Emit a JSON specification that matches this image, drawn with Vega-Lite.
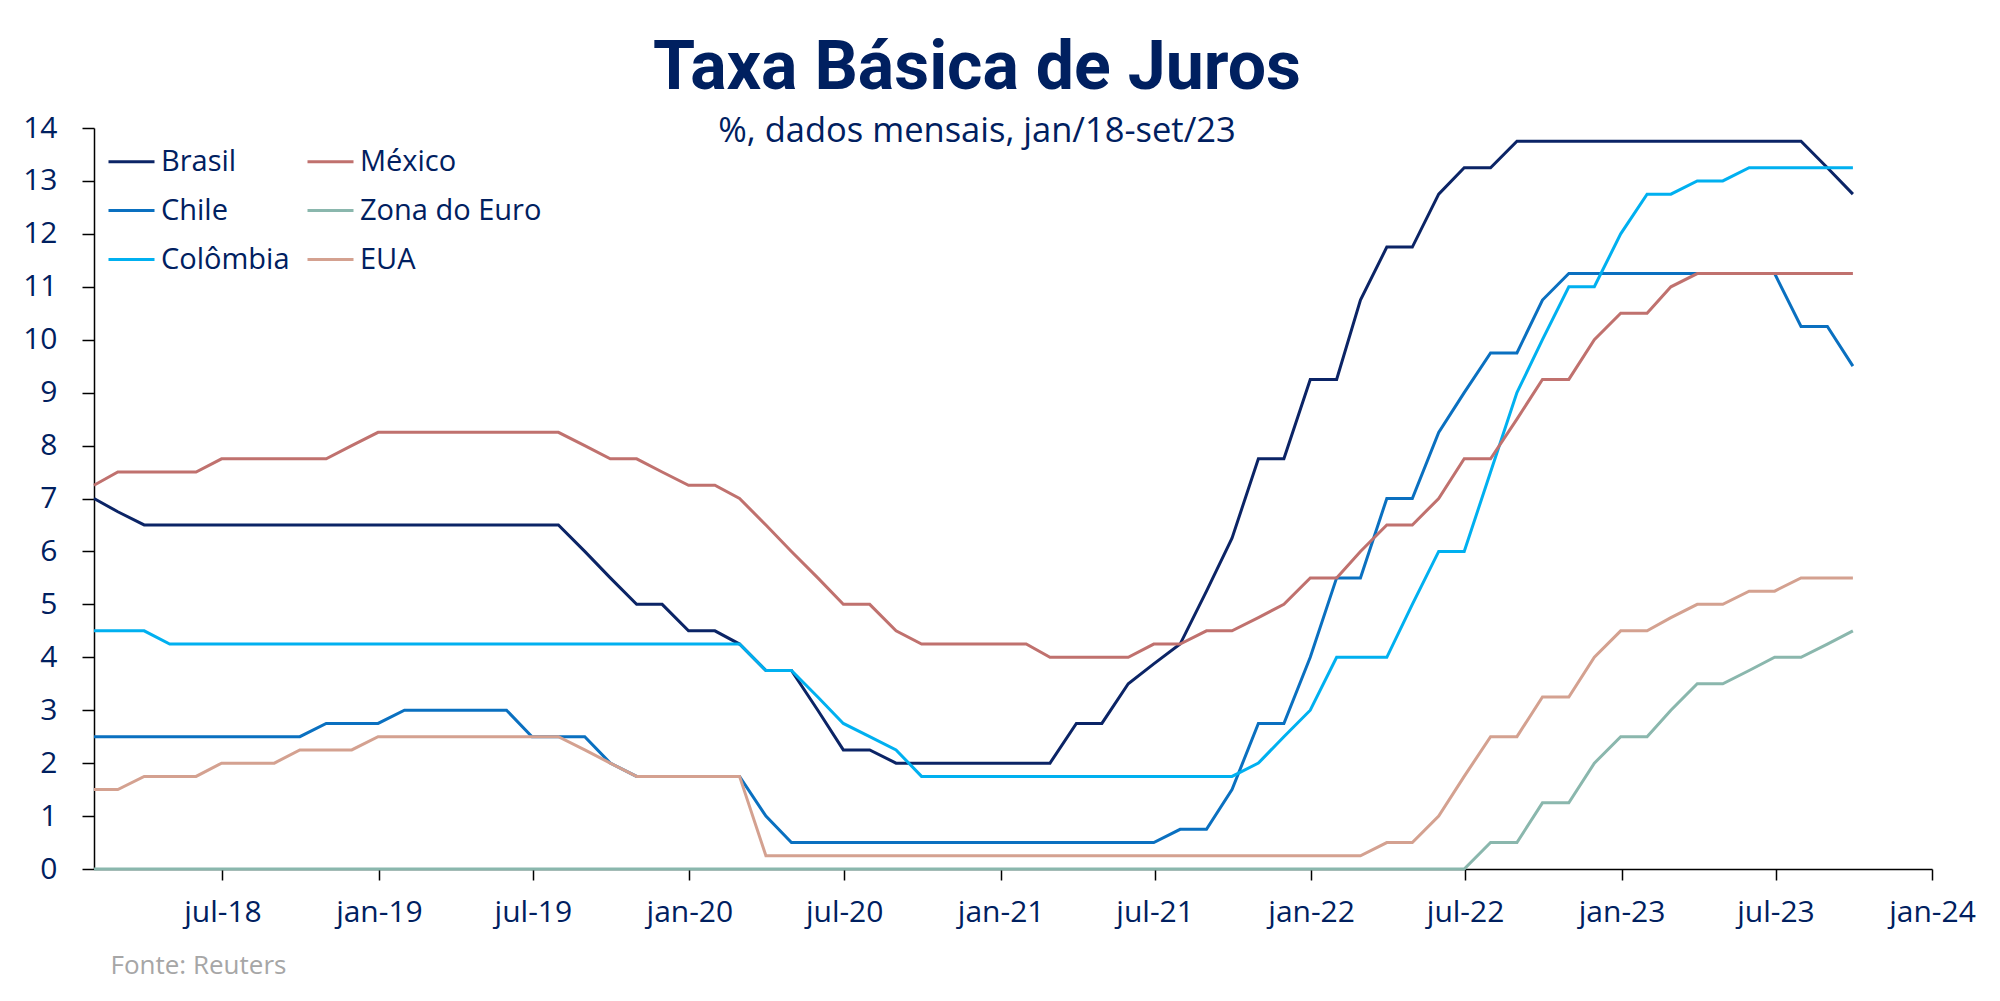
{
  "$schema": "https://vega.github.io/schema/vega-lite/v6.json",
  "width": 1838,
  "height": 741,
  "autosize": {"type": "none"},
  "padding": {"left": 94, "top": 128, "right": 68, "bottom": 132},
  "background": "white",
  "title": {
    "text": "Taxa Básica de Juros",
    "subtitle": "%, dados mensais, jan/18-set/23",
    "anchor": "middle",
    "frame": "group",
    "dx": -36,
    "offset": -35,
    "font": "Roboto",
    "fontSize": 68,
    "fontWeight": "bold",
    "color": "#002060",
    "subtitleFont": "Open Sans",
    "subtitleFontSize": 34.5,
    "subtitleColor": "#002060",
    "subtitlePadding": 12
  },
  "data": {
    "values": [
      {"d": "2018-01-31", "Brasil": 7, "Chile": 2.5, "Colômbia": 4.5, "México": 7.25, "Zona do Euro": 0, "EUA": 1.5},
      {"d": "2018-02-28", "Brasil": 6.75, "Chile": 2.5, "Colômbia": 4.5, "México": 7.5, "Zona do Euro": 0, "EUA": 1.5},
      {"d": "2018-03-31", "Brasil": 6.5, "Chile": 2.5, "Colômbia": 4.5, "México": 7.5, "Zona do Euro": 0, "EUA": 1.75},
      {"d": "2018-04-30", "Brasil": 6.5, "Chile": 2.5, "Colômbia": 4.25, "México": 7.5, "Zona do Euro": 0, "EUA": 1.75},
      {"d": "2018-05-31", "Brasil": 6.5, "Chile": 2.5, "Colômbia": 4.25, "México": 7.5, "Zona do Euro": 0, "EUA": 1.75},
      {"d": "2018-06-30", "Brasil": 6.5, "Chile": 2.5, "Colômbia": 4.25, "México": 7.75, "Zona do Euro": 0, "EUA": 2},
      {"d": "2018-07-31", "Brasil": 6.5, "Chile": 2.5, "Colômbia": 4.25, "México": 7.75, "Zona do Euro": 0, "EUA": 2},
      {"d": "2018-08-31", "Brasil": 6.5, "Chile": 2.5, "Colômbia": 4.25, "México": 7.75, "Zona do Euro": 0, "EUA": 2},
      {"d": "2018-09-30", "Brasil": 6.5, "Chile": 2.5, "Colômbia": 4.25, "México": 7.75, "Zona do Euro": 0, "EUA": 2.25},
      {"d": "2018-10-31", "Brasil": 6.5, "Chile": 2.75, "Colômbia": 4.25, "México": 7.75, "Zona do Euro": 0, "EUA": 2.25},
      {"d": "2018-11-30", "Brasil": 6.5, "Chile": 2.75, "Colômbia": 4.25, "México": 8, "Zona do Euro": 0, "EUA": 2.25},
      {"d": "2018-12-31", "Brasil": 6.5, "Chile": 2.75, "Colômbia": 4.25, "México": 8.25, "Zona do Euro": 0, "EUA": 2.5},
      {"d": "2019-01-31", "Brasil": 6.5, "Chile": 3, "Colômbia": 4.25, "México": 8.25, "Zona do Euro": 0, "EUA": 2.5},
      {"d": "2019-02-28", "Brasil": 6.5, "Chile": 3, "Colômbia": 4.25, "México": 8.25, "Zona do Euro": 0, "EUA": 2.5},
      {"d": "2019-03-31", "Brasil": 6.5, "Chile": 3, "Colômbia": 4.25, "México": 8.25, "Zona do Euro": 0, "EUA": 2.5},
      {"d": "2019-04-30", "Brasil": 6.5, "Chile": 3, "Colômbia": 4.25, "México": 8.25, "Zona do Euro": 0, "EUA": 2.5},
      {"d": "2019-05-31", "Brasil": 6.5, "Chile": 3, "Colômbia": 4.25, "México": 8.25, "Zona do Euro": 0, "EUA": 2.5},
      {"d": "2019-06-30", "Brasil": 6.5, "Chile": 2.5, "Colômbia": 4.25, "México": 8.25, "Zona do Euro": 0, "EUA": 2.5},
      {"d": "2019-07-31", "Brasil": 6.5, "Chile": 2.5, "Colômbia": 4.25, "México": 8.25, "Zona do Euro": 0, "EUA": 2.5},
      {"d": "2019-08-31", "Brasil": 6, "Chile": 2.5, "Colômbia": 4.25, "México": 8, "Zona do Euro": 0, "EUA": 2.25},
      {"d": "2019-09-30", "Brasil": 5.5, "Chile": 2, "Colômbia": 4.25, "México": 7.75, "Zona do Euro": 0, "EUA": 2},
      {"d": "2019-10-31", "Brasil": 5, "Chile": 1.75, "Colômbia": 4.25, "México": 7.75, "Zona do Euro": 0, "EUA": 1.75},
      {"d": "2019-11-30", "Brasil": 5, "Chile": 1.75, "Colômbia": 4.25, "México": 7.5, "Zona do Euro": 0, "EUA": 1.75},
      {"d": "2019-12-31", "Brasil": 4.5, "Chile": 1.75, "Colômbia": 4.25, "México": 7.25, "Zona do Euro": 0, "EUA": 1.75},
      {"d": "2020-01-31", "Brasil": 4.5, "Chile": 1.75, "Colômbia": 4.25, "México": 7.25, "Zona do Euro": 0, "EUA": 1.75},
      {"d": "2020-02-29", "Brasil": 4.25, "Chile": 1.75, "Colômbia": 4.25, "México": 7, "Zona do Euro": 0, "EUA": 1.75},
      {"d": "2020-03-31", "Brasil": 3.75, "Chile": 1, "Colômbia": 3.75, "México": 6.5, "Zona do Euro": 0, "EUA": 0.25},
      {"d": "2020-04-30", "Brasil": 3.75, "Chile": 0.5, "Colômbia": 3.75, "México": 6, "Zona do Euro": 0, "EUA": 0.25},
      {"d": "2020-05-31", "Brasil": 3, "Chile": 0.5, "Colômbia": 3.25, "México": 5.5, "Zona do Euro": 0, "EUA": 0.25},
      {"d": "2020-06-30", "Brasil": 2.25, "Chile": 0.5, "Colômbia": 2.75, "México": 5, "Zona do Euro": 0, "EUA": 0.25},
      {"d": "2020-07-31", "Brasil": 2.25, "Chile": 0.5, "Colômbia": 2.5, "México": 5, "Zona do Euro": 0, "EUA": 0.25},
      {"d": "2020-08-31", "Brasil": 2, "Chile": 0.5, "Colômbia": 2.25, "México": 4.5, "Zona do Euro": 0, "EUA": 0.25},
      {"d": "2020-09-30", "Brasil": 2, "Chile": 0.5, "Colômbia": 1.75, "México": 4.25, "Zona do Euro": 0, "EUA": 0.25},
      {"d": "2020-10-31", "Brasil": 2, "Chile": 0.5, "Colômbia": 1.75, "México": 4.25, "Zona do Euro": 0, "EUA": 0.25},
      {"d": "2020-11-30", "Brasil": 2, "Chile": 0.5, "Colômbia": 1.75, "México": 4.25, "Zona do Euro": 0, "EUA": 0.25},
      {"d": "2020-12-31", "Brasil": 2, "Chile": 0.5, "Colômbia": 1.75, "México": 4.25, "Zona do Euro": 0, "EUA": 0.25},
      {"d": "2021-01-31", "Brasil": 2, "Chile": 0.5, "Colômbia": 1.75, "México": 4.25, "Zona do Euro": 0, "EUA": 0.25},
      {"d": "2021-02-28", "Brasil": 2, "Chile": 0.5, "Colômbia": 1.75, "México": 4, "Zona do Euro": 0, "EUA": 0.25},
      {"d": "2021-03-31", "Brasil": 2.75, "Chile": 0.5, "Colômbia": 1.75, "México": 4, "Zona do Euro": 0, "EUA": 0.25},
      {"d": "2021-04-30", "Brasil": 2.75, "Chile": 0.5, "Colômbia": 1.75, "México": 4, "Zona do Euro": 0, "EUA": 0.25},
      {"d": "2021-05-31", "Brasil": 3.5, "Chile": 0.5, "Colômbia": 1.75, "México": 4, "Zona do Euro": 0, "EUA": 0.25},
      {"d": "2021-06-30", "Brasil": 3.875, "Chile": 0.5, "Colômbia": 1.75, "México": 4.25, "Zona do Euro": 0, "EUA": 0.25},
      {"d": "2021-07-31", "Brasil": 4.25, "Chile": 0.75, "Colômbia": 1.75, "México": 4.25, "Zona do Euro": 0, "EUA": 0.25},
      {"d": "2021-08-31", "Brasil": 5.25, "Chile": 0.75, "Colômbia": 1.75, "México": 4.5, "Zona do Euro": 0, "EUA": 0.25},
      {"d": "2021-09-30", "Brasil": 6.25, "Chile": 1.5, "Colômbia": 1.75, "México": 4.5, "Zona do Euro": 0, "EUA": 0.25},
      {"d": "2021-10-31", "Brasil": 7.75, "Chile": 2.75, "Colômbia": 2, "México": 4.75, "Zona do Euro": 0, "EUA": 0.25},
      {"d": "2021-11-30", "Brasil": 7.75, "Chile": 2.75, "Colômbia": 2.5, "México": 5, "Zona do Euro": 0, "EUA": 0.25},
      {"d": "2021-12-31", "Brasil": 9.25, "Chile": 4, "Colômbia": 3, "México": 5.5, "Zona do Euro": 0, "EUA": 0.25},
      {"d": "2022-01-31", "Brasil": 9.25, "Chile": 5.5, "Colômbia": 4, "México": 5.5, "Zona do Euro": 0, "EUA": 0.25},
      {"d": "2022-02-28", "Brasil": 10.75, "Chile": 5.5, "Colômbia": 4, "México": 6, "Zona do Euro": 0, "EUA": 0.25},
      {"d": "2022-03-31", "Brasil": 11.75, "Chile": 7, "Colômbia": 4, "México": 6.5, "Zona do Euro": 0, "EUA": 0.5},
      {"d": "2022-04-30", "Brasil": 11.75, "Chile": 7, "Colômbia": 5, "México": 6.5, "Zona do Euro": 0, "EUA": 0.5},
      {"d": "2022-05-31", "Brasil": 12.75, "Chile": 8.25, "Colômbia": 6, "México": 7, "Zona do Euro": 0, "EUA": 1},
      {"d": "2022-06-30", "Brasil": 13.25, "Chile": 9, "Colômbia": 6, "México": 7.75, "Zona do Euro": 0, "EUA": 1.75},
      {"d": "2022-07-31", "Brasil": 13.25, "Chile": 9.75, "Colômbia": 7.5, "México": 7.75, "Zona do Euro": 0.5, "EUA": 2.5},
      {"d": "2022-08-31", "Brasil": 13.75, "Chile": 9.75, "Colômbia": 9, "México": 8.5, "Zona do Euro": 0.5, "EUA": 2.5},
      {"d": "2022-09-30", "Brasil": 13.75, "Chile": 10.75, "Colômbia": 10, "México": 9.25, "Zona do Euro": 1.25, "EUA": 3.25},
      {"d": "2022-10-31", "Brasil": 13.75, "Chile": 11.25, "Colômbia": 11, "México": 9.25, "Zona do Euro": 1.25, "EUA": 3.25},
      {"d": "2022-11-30", "Brasil": 13.75, "Chile": 11.25, "Colômbia": 11, "México": 10, "Zona do Euro": 2, "EUA": 4},
      {"d": "2022-12-31", "Brasil": 13.75, "Chile": 11.25, "Colômbia": 12, "México": 10.5, "Zona do Euro": 2.5, "EUA": 4.5},
      {"d": "2023-01-31", "Brasil": 13.75, "Chile": 11.25, "Colômbia": 12.75, "México": 10.5, "Zona do Euro": 2.5, "EUA": 4.5},
      {"d": "2023-02-28", "Brasil": 13.75, "Chile": 11.25, "Colômbia": 12.75, "México": 11, "Zona do Euro": 3, "EUA": 4.75},
      {"d": "2023-03-31", "Brasil": 13.75, "Chile": 11.25, "Colômbia": 13, "México": 11.25, "Zona do Euro": 3.5, "EUA": 5},
      {"d": "2023-04-30", "Brasil": 13.75, "Chile": 11.25, "Colômbia": 13, "México": 11.25, "Zona do Euro": 3.5, "EUA": 5},
      {"d": "2023-05-31", "Brasil": 13.75, "Chile": 11.25, "Colômbia": 13.25, "México": 11.25, "Zona do Euro": 3.75, "EUA": 5.25},
      {"d": "2023-06-30", "Brasil": 13.75, "Chile": 11.25, "Colômbia": 13.25, "México": 11.25, "Zona do Euro": 4, "EUA": 5.25},
      {"d": "2023-07-31", "Brasil": 13.75, "Chile": 10.25, "Colômbia": 13.25, "México": 11.25, "Zona do Euro": 4, "EUA": 5.5},
      {"d": "2023-08-31", "Brasil": 13.25, "Chile": 10.25, "Colômbia": 13.25, "México": 11.25, "Zona do Euro": 4.25, "EUA": 5.5},
      {"d": "2023-09-30", "Brasil": 12.75, "Chile": 9.5, "Colômbia": 13.25, "México": 11.25, "Zona do Euro": 4.5, "EUA": 5.5}
    ]
  },
  "transform": [
    {"fold": ["Brasil", "Chile", "Colômbia", "México", "Zona do Euro", "EUA"], "as": ["pais", "taxa"]}
  ],
  "mark": {"type": "line", "strokeWidth": 3, "strokeJoin": "miter"},
  "encoding": {
    "x": {
      "field": "d",
      "type": "temporal",
      "scale": {
        "type": "utc",
        "nice": false,
        "domain": [
          {"year": 2018, "month": 1, "date": 31, "utc": true},
          {"year": 2024, "month": 1, "date": 1, "utc": true}
        ]
      },
      "axis": {
        "values": [
          {"year": 2018, "month": 7, "date": 1, "utc": true},
          {"year": 2019, "month": 1, "date": 1, "utc": true},
          {"year": 2019, "month": 7, "date": 1, "utc": true},
          {"year": 2020, "month": 1, "date": 1, "utc": true},
          {"year": 2020, "month": 7, "date": 1, "utc": true},
          {"year": 2021, "month": 1, "date": 1, "utc": true},
          {"year": 2021, "month": 7, "date": 1, "utc": true},
          {"year": 2022, "month": 1, "date": 1, "utc": true},
          {"year": 2022, "month": 7, "date": 1, "utc": true},
          {"year": 2023, "month": 1, "date": 1, "utc": true},
          {"year": 2023, "month": 7, "date": 1, "utc": true},
          {"year": 2024, "month": 1, "date": 1, "utc": true}
        ],
        "labelExpr": "(utcmonth(datum.value) == 0 ? 'jan' : 'jul') + '-' + utcFormat(datum.value, '%y')",
        "title": "Fonte: Reuters",
        "titleAnchor": "start",
        "titleAlign": "left",
        "titleX": 16,
        "titleY": 104,
        "titleBaseline": "alphabetic",
        "titleFont": "Open Sans",
        "titleFontSize": 26,
        "titleFontWeight": "normal",
        "titleColor": "#a6a6a6",
        "grid": false,
        "domainColor": "#000000",
        "domainWidth": 1.5,
        "tickColor": "#000000",
        "tickWidth": 1.5,
        "tickSize": 11,
        "labelFont": "Open Sans",
        "labelFontSize": 30,
        "labelColor": "#002060",
        "labelPadding": 17,
        "labelFlush": false,
        "labelOverlap": false
      }
    },
    "y": {
      "field": "taxa",
      "type": "quantitative",
      "scale": {"domain": [0, 14], "nice": false},
      "axis": {
        "values": [0, 1, 2, 3, 4, 5, 6, 7, 8, 9, 10, 11, 12, 13, 14],
        "title": null,
        "grid": false,
        "domainColor": "#000000",
        "domainWidth": 1.5,
        "tickColor": "#000000",
        "tickWidth": 1.5,
        "tickSize": 12,
        "labelFont": "Open Sans",
        "labelFontSize": 30,
        "labelColor": "#002060",
        "labelPadding": 25,
        "labelFlush": false
      }
    },
    "color": {
      "field": "pais",
      "type": "nominal",
      "scale": {
        "domain": ["Brasil", "Chile", "Colômbia", "México", "Zona do Euro", "EUA"],
        "range": ["#0b2466", "#0a70c0", "#00b0f0", "#c0716e", "#8ab7ad", "#d4a190"]
      },
      "legend": {
        "title": null,
        "orient": "none",
        "legendX": 13,
        "legendY": 9,
        "columns": 2,
        "symbolType": "stroke",
        "symbolSize": 2116,
        "symbolStrokeWidth": 3,
        "labelFont": "Open Sans",
        "labelFontSize": 29,
        "labelColor": "#002060",
        "labelOffset": 5,
        "labelLimit": 400,
        "columnPadding": 11,
        "rowPadding": 9
      }
    }
  },
  "config": {"view": {"stroke": null}}
}
